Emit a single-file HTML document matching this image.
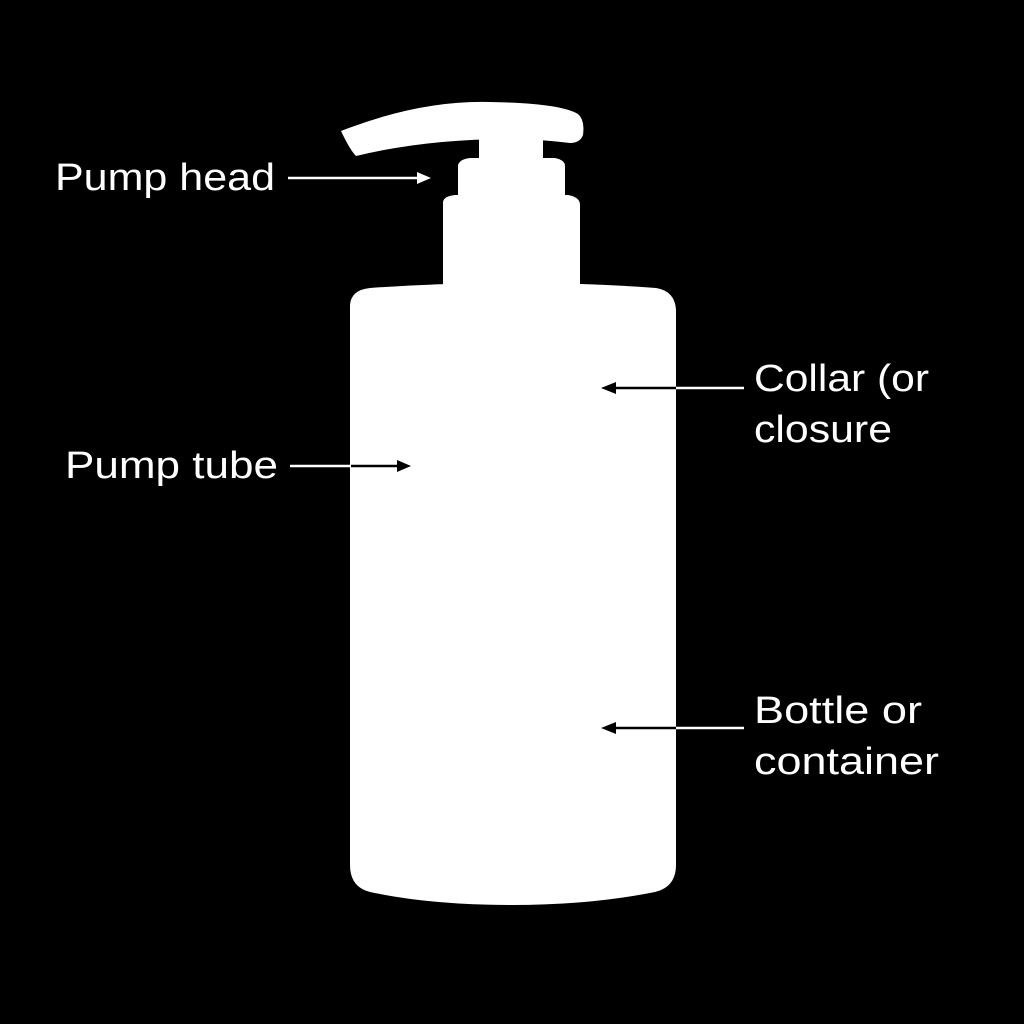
<!DOCTYPE html>
<html><head><meta charset="utf-8"><style>
html,body{margin:0;padding:0;background:#000;}
svg{display:block}
text{font-family:"Liberation Sans",sans-serif;fill:#fff;font-size:38px}
</style></head><body>
<svg width="1024" height="1024" viewBox="0 0 1024 1024">
<rect width="1024" height="1024" fill="#000"/>
<!-- spout -->
<path d="M341,131 Q420,100 490,102 Q560,103 578,114 Q585,120 583,135 Q580,143 570,143 Q545,140 520,139 Q430,138 356,156 Q350,150 341,131 Z" fill="#fff"/>
<rect x="479" y="135" width="64" height="30" fill="#fff"/>
<path d="M458,165 Q460,159 470,158 L555,158 Q565,160 565,166 L565,196 L458,196 Z" fill="#fff"/>
<path d="M443,202 Q444,196 455,195 L568,195 Q580,197 580,205 L580,290 L443,290 Z" fill="#fff"/>
<!-- body -->
<path d="M350,305 Q351,290 370,288 Q440,283 512,283 Q590,283 656,288 Q675,291 676,310 L676,865 Q676,887 655,892 Q590,905 512,905 Q430,905 370,892 Q350,887 350,865 Z" fill="#fff"/>
<!-- labels -->
<text x="55" y="190" textLength="220" lengthAdjust="spacingAndGlyphs">Pump head</text>
<text x="65" y="478" textLength="213" lengthAdjust="spacingAndGlyphs">Pump tube</text>
<text x="754" y="391" textLength="175" lengthAdjust="spacingAndGlyphs">Collar (or</text>
<text x="754" y="442" textLength="138" lengthAdjust="spacingAndGlyphs">closure</text>
<text x="754" y="723" textLength="168" lengthAdjust="spacingAndGlyphs">Bottle or</text>
<text x="754" y="774" textLength="185" lengthAdjust="spacingAndGlyphs">container</text>
<!-- arrows -->
<line x1="288" y1="178" x2="420" y2="178" stroke="#fff" stroke-width="2.5"/>
<polygon points="431,178 417,172 417,184" fill="#fff"/>
<line x1="290" y1="466" x2="351" y2="466" stroke="#fff" stroke-width="2.5"/>
<line x1="351" y1="466" x2="400" y2="466" stroke="#000" stroke-width="2.5"/>
<polygon points="411,466 397,460 397,472" fill="#000"/>
<line x1="676" y1="388" x2="744" y2="388" stroke="#fff" stroke-width="2.5"/>
<line x1="610" y1="388" x2="676" y2="388" stroke="#000" stroke-width="2.5"/>
<polygon points="601,388 616,382 616,394" fill="#000"/>
<line x1="676" y1="728" x2="744" y2="728" stroke="#fff" stroke-width="2.5"/>
<line x1="610" y1="728" x2="676" y2="728" stroke="#000" stroke-width="2.5"/>
<polygon points="601,728 616,722 616,734" fill="#000"/>
</svg>
</body></html>
